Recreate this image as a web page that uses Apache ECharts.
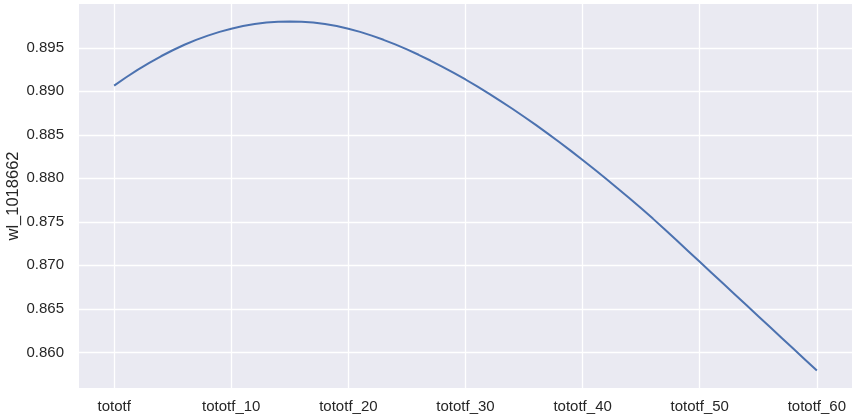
<!DOCTYPE html>
<html>
<head>
<meta charset="utf-8">
<script src="https://cdn.jsdelivr.net/npm/echarts@6/dist/echarts.min.js"></script>
<style>
  html, body { margin: 0; padding: 0; background: #ffffff; }
  #chart { width: 855px; height: 419px; }
</style>
</head>
<body>
<div id="chart"></div>
<script>
// ---- data ----
const seriesName = 'wl_1018662';
const categories = ['tototf'];
for (let i = 1; i <= 60; i++) categories.push('tototf_' + i);

const values = [
  0.89065, 0.89159, 0.89247, 0.89328, 0.89403, 0.89472, 0.89535, 0.89591, 0.89640, 0.89683,
  0.89720, 0.89750, 0.89773, 0.89790, 0.89800, 0.89803, 0.89800, 0.89790, 0.89774, 0.89751,
  0.89720, 0.89683, 0.89640, 0.89592, 0.89539, 0.89482, 0.89420, 0.89354, 0.89285, 0.89212,
  0.89136, 0.89056, 0.88974, 0.88888, 0.88800, 0.88708, 0.88614, 0.88517, 0.88418, 0.88316,
  0.88211, 0.88104, 0.87995, 0.87884, 0.87771, 0.87656, 0.87537, 0.87415, 0.87291, 0.87166,
  0.87041, 0.86916, 0.86791, 0.86666, 0.86541, 0.86416, 0.86291, 0.86166, 0.86041, 0.85916,
  0.85791
];

const xTickIndices = [0, 10, 20, 30, 40, 50, 60];
const xTickLabels = ['tototf', 'tototf_10', 'tototf_20', 'tototf_30', 'tototf_40', 'tototf_50', 'tototf_60'];
const yTickValues = [0.860, 0.865, 0.870, 0.875, 0.880, 0.885, 0.890, 0.895];

// ---- axis extents (matplotlib-like 5% margins) ----
const n = values.length;
const xMargin = (n - 1) * 0.05;
const vMin = Math.min(...values), vMax = Math.max(...values);
const yMargin = (vMax - vMin) * 0.05;

const FONT = '"Liberation Sans", Arial, sans-serif';
const TEXT = '#262626';

const chart = echarts.init(document.getElementById('chart'), null, { renderer: 'canvas' });
chart.setOption({
  animation: false,
  backgroundColor: '#ffffff',
  grid: {
    left: 79, right: 3, top: 4, bottom: 31,
    containLabel: false,
    outerBoundsMode: 'none',
    show: true, backgroundColor: '#EAEAF2', borderWidth: 0
  },
  xAxis: {
    type: 'value',
    min: -xMargin,
    max: (n - 1) + xMargin,
    axisLine: { show: false },
    axisTick: { show: false, customValues: xTickIndices },
    axisLabel: {
      customValues: xTickIndices,
      formatter: function (v) {
        const k = xTickIndices.indexOf(Math.round(v));
        return k >= 0 ? xTickLabels[k] : '';
      },
      color: TEXT, fontSize: 15, fontFamily: FONT, margin: 11
    },
    splitLine: { show: true, lineStyle: { color: '#ffffff', width: 1.3 } }
  },
  yAxis: {
    type: 'value',
    min: vMin - yMargin,
    max: vMax + yMargin,
    name: seriesName,
    nameLocation: 'middle',
    nameGap: 57,
    nameMoveOverlap: false,
    nameTextStyle: { color: TEXT, fontSize: 16.5, fontFamily: FONT },
    axisLine: { show: false },
    axisTick: { show: false, customValues: yTickValues },
    axisLabel: {
      customValues: yTickValues,
      formatter: function (v) { return v.toFixed(3); },
      color: TEXT, fontSize: 15, fontFamily: FONT, margin: 15
    },
    splitLine: { show: true, lineStyle: { color: '#ffffff', width: 1.3 } }
  },
  series: [{
    name: seriesName,
    type: 'line',
    data: values.map(function (v, i) { return [i, v]; }),
    showSymbol: false,
    symbol: 'none',
    lineStyle: { color: '#4C72B0', width: 2 },
    silent: true
  }]
});
</script>
</body>
</html>
